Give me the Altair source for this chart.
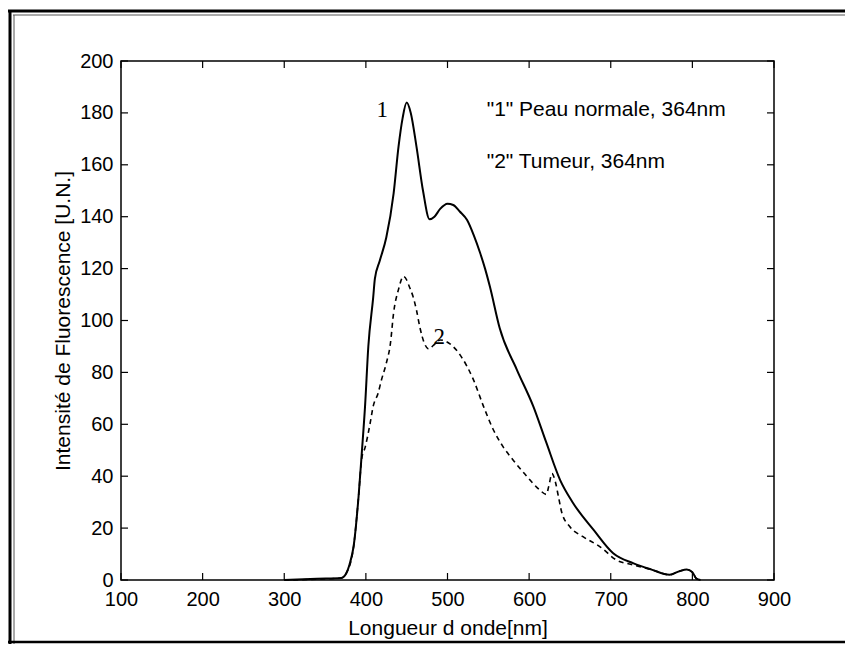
import altair as alt
import pandas as pd

# ---- data ----
solid_nm = [300, 340, 370, 376, 380, 385, 391, 395, 399, 403, 409, 411, 417, 425, 434, 440, 445, 450,
            455, 462, 470, 478, 484, 491, 500, 507, 515, 524, 532, 540, 546, 552, 564, 585, 605, 621,
            638, 654, 679, 703, 728, 750, 772, 785, 793, 800, 805, 810]
solid_val = [0, 0.5, 0.8, 2.6, 6, 13, 32, 49, 67, 90, 109, 116, 123, 132, 149, 167, 178, 184,
             180, 167, 150, 139, 140, 143, 145, 144.5, 142, 138.7, 133, 126, 120, 113, 97, 81, 67, 53,
             38.5, 29.6, 19.3, 10.3, 6.4, 4, 2, 3.5, 4, 3, 0.5, 0]

dash_nm = [300, 340, 370, 376, 385, 391, 395, 399, 405, 409, 415, 419, 425, 430, 434, 440, 446, 450,
           452, 458, 462, 466, 472, 477, 483, 491, 503, 517, 532, 544, 556, 568, 581, 597, 613, 621,
           624, 628, 632, 636, 640, 650, 666, 687, 707, 728, 750, 772, 785, 793, 800, 805, 810]
dash_val = [0, 0.3, 0.8, 2.6, 13, 32, 47, 51, 60, 67, 72, 77, 83.5, 91, 103, 112, 117, 115.6,
            114, 109, 104, 97.6, 91, 89, 90.5, 92.5, 91, 86, 77, 67, 58, 51.4, 46, 40, 34.7, 33,
            36, 41, 38, 32, 26, 20.5, 16.7, 12.8, 7.7, 5.8, 4, 2, 3.5, 4, 3, 0.5, 0]

x_ticks = [100, 200, 300, 400, 500, 600, 700, 800, 900]
y_ticks = [0, 20, 40, 60, 80, 100, 120, 140, 160, 180, 200]

x_title = "Longueur d onde[nm]"
y_title = "Intensité de Fluorescence [U.N.]"

legend_text = ['"1" Peau normale, 364nm', '"2" Tumeur, 364nm']
legend_x = [548, 548]
legend_y = [181, 161]

curve_text = ["1", "2"]
curve_x = [420, 490]
curve_y = [181, 93.5]

# ---- chart ----
W, H = 653, 519
FONT = "Liberation Sans"

xs = alt.Scale(domain=[100, 900], nice=False, zero=False)
ys = alt.Scale(domain=[0, 200], nice=False, zero=False)

xax = alt.Axis(values=x_ticks, title=x_title, grid=False, domain=False, ticks=False, tickSize=0,
               labelPadding=9, labelFlush=False, labelOverlap=False, labelFont=FONT, labelFontSize=20,
               labelColor="black", titleFont=FONT, titleFontSize=21, titleFontWeight="normal",
               titleColor="black", titlePadding=8)
yax = alt.Axis(values=y_ticks, title=y_title, grid=False, domain=False, ticks=False, tickSize=0,
               labelPadding=8, labelFlush=False, labelOverlap=False, labelFont=FONT, labelFontSize=20,
               labelColor="black", titleFont=FONT, titleFontSize=21, titleFontWeight="normal",
               titleColor="black", titlePadding=6)


def X(f):
    return alt.X(f"{f}:Q", scale=xs, axis=xax)


def Y(f):
    return alt.Y(f"{f}:Q", scale=ys, axis=yax)


df_s = pd.DataFrame({"x": solid_nm, "y": solid_val})
df_d = pd.DataFrame({"x": dash_nm, "y": dash_val})
df_xt = pd.DataFrame({"x": x_ticks})
df_yt = pd.DataFrame({"y": y_ticks})
df_leg = pd.DataFrame({"x": legend_x, "y": legend_y, "t": legend_text})
df_cur = pd.DataFrame({"x": curve_x, "y": curve_y, "t": curve_text})
df_one = pd.DataFrame({"a": [0]})

solid = alt.Chart(df_s).mark_line(color="black", strokeWidth=2, interpolate="monotone").encode(
    x=X("x"), y=Y("y"))
dashed = alt.Chart(df_d).mark_line(color="black", strokeWidth=1.6, strokeDash=[5, 4],
                                   interpolate="monotone").encode(x=X("x"), y=Y("y"))

tk = 7
xt_b = alt.Chart(df_xt).mark_rule(color="black", strokeWidth=1.2).encode(
    x=X("x"), y=alt.value(H), y2=alt.value(H - tk))
xt_t = alt.Chart(df_xt).mark_rule(color="black", strokeWidth=1.2).encode(
    x=X("x"), y=alt.value(0), y2=alt.value(tk))
yt_l = alt.Chart(df_yt).mark_rule(color="black", strokeWidth=1.2).encode(
    y=Y("y"), x=alt.value(0), x2=alt.value(tk))
yt_r = alt.Chart(df_yt).mark_rule(color="black", strokeWidth=1.2).encode(
    y=Y("y"), x=alt.value(W), x2=alt.value(W - tk))

legend = alt.Chart(df_leg).mark_text(align="left", baseline="middle", font=FONT, fontSize=21,
                                     color="black").encode(x=X("x"), y=Y("y"), text="t:N")
curve_lab = alt.Chart(df_cur).mark_text(align="center", baseline="middle", font="Liberation Serif",
                                        fontSize=23, color="black").encode(x=X("x"), y=Y("y"), text="t:N")

# outer scanned-figure frame (decoration)
frame_top = alt.Chart(df_one).mark_rule(color="black", strokeWidth=3).encode(
    x=alt.value(-113), x2=alt.value(W + 71), y=alt.value(-50))
frame_top2 = alt.Chart(df_one).mark_rule(color="#555", strokeWidth=1).encode(
    x=alt.value(-108), x2=alt.value(W + 71), y=alt.value(-46))
frame_left = alt.Chart(df_one).mark_rule(color="black", strokeWidth=3).encode(
    x=alt.value(-111), y=alt.value(-51), y2=alt.value(583))
frame_left2 = alt.Chart(df_one).mark_rule(color="#555", strokeWidth=1).encode(
    x=alt.value(-107), y=alt.value(-46), y2=alt.value(583))
frame_bot = alt.Chart(df_one).mark_rule(color="black", strokeWidth=2.5).encode(
    x=alt.value(-113), x2=alt.value(W + 71), y=alt.value(581))

chart = alt.layer(
    solid, dashed, xt_b, xt_t, yt_l, yt_r, legend, curve_lab,
    frame_top, frame_top2, frame_left, frame_left2, frame_bot
).properties(
    width=W, height=H,
    padding={"left": 113, "top": 53, "right": 71, "bottom": 66},
    autosize=alt.AutoSizeParams(type="none"),
    background="white",
).configure_view(stroke="black", strokeWidth=1.5)

chart.save("out.html", embed_options={"renderer": "svg", "actions": False})
